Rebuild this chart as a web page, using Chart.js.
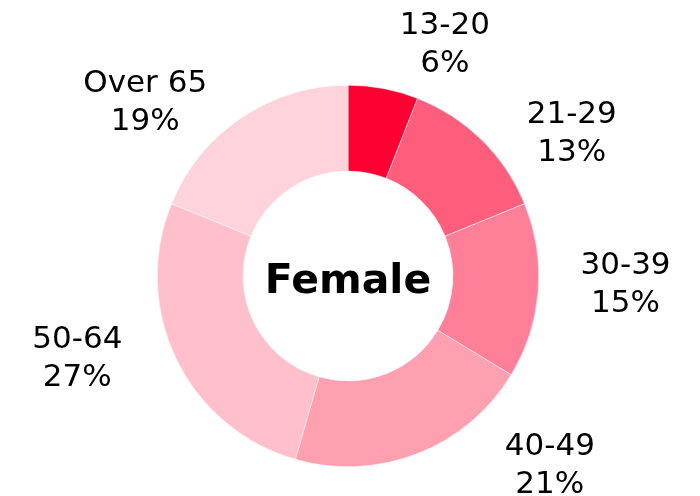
<!DOCTYPE html>
<html lang="en">
<head>
    <meta charset="UTF-8">
    <title>Female</title>
    <script src="https://cdn.jsdelivr.net/npm/chart.js"></script>
    <style>
        html, body {
            margin: 0;
            padding: 0;
            background: #fff;
        }
        #wrap {
            width: 700px;
            height: 496px;
        }
    </style>
</head>
<body>
    <div id="wrap"><canvas id="ageChart"></canvas></div>

    <script>
        const ageGroups = ['13-20', '21-29', '30-39', '40-49', '50-64', 'Over 65'];
        const shares = [6, 13, 15, 21, 27, 19];
        const shareLabels = ['6%', '13%', '15%', '21%', '27%', '19%'];
        const centerTitle = 'Female';

        const sliceColors = ['#FF0033', '#FF5D7C', '#FF7F98', '#FFA0B1', '#FFBFCB', '#FFD3DB'];
        // label block centres, relative to the doughnut centre, in outer radii
        const labelOffsets = [
            [0.508, -1.225],
            [1.173, -0.759],
            [1.455, 0.031],
            [1.058, 0.979],
            [-1.419, 0.419],
            [-1.063, -0.921]
        ];

        const labelPlugin = {
            id: 'outsideLabels',
            afterDatasetsDraw(chart) {
                const ctx = chart.ctx;
                const arcs = chart.getDatasetMeta(0).data;
                if (!arcs.length) return;
                const cx = arcs[0].x;
                const cy = arcs[0].y;
                const r = arcs[0].outerRadius;
                ctx.save();
                ctx.fillStyle = '#000';
                ctx.textAlign = 'center';
                ctx.textBaseline = 'alphabetic';
                ctx.font = '31px "DejaVu Sans", Verdana, sans-serif';
                arcs.forEach((arc, i) => {
                    const x = cx + labelOffsets[i][0] * r;
                    const y = cy + labelOffsets[i][1] * r;
                    ctx.fillText(ageGroups[i], x, y - 19 + 11);
                    ctx.fillText(shareLabels[i], x, y + 19 + 11);
                });
                ctx.font = 'bold 41px "DejaVu Sans", Verdana, sans-serif';
                ctx.fillText(centerTitle, cx, cy + 17);
                ctx.restore();
            }
        };

        new Chart(document.getElementById('ageChart').getContext('2d'), {
            type: 'doughnut',
            data: {
                labels: ageGroups,
                datasets: [{
                    data: shares,
                    backgroundColor: sliceColors,
                    borderColor: '#ffffff',
                    borderWidth: 0.5
                }]
            },
            options: {
                responsive: true,
                maintainAspectRatio: false,
                animation: false,
                cutout: '55%',
                layout: {
                    padding: { top: 85, bottom: 29, left: 157, right: 161 }
                },
                plugins: {
                    legend: { display: false },
                    tooltip: { enabled: false }
                }
            },
            plugins: [labelPlugin]
        });
    </script>
</body>
</html>
